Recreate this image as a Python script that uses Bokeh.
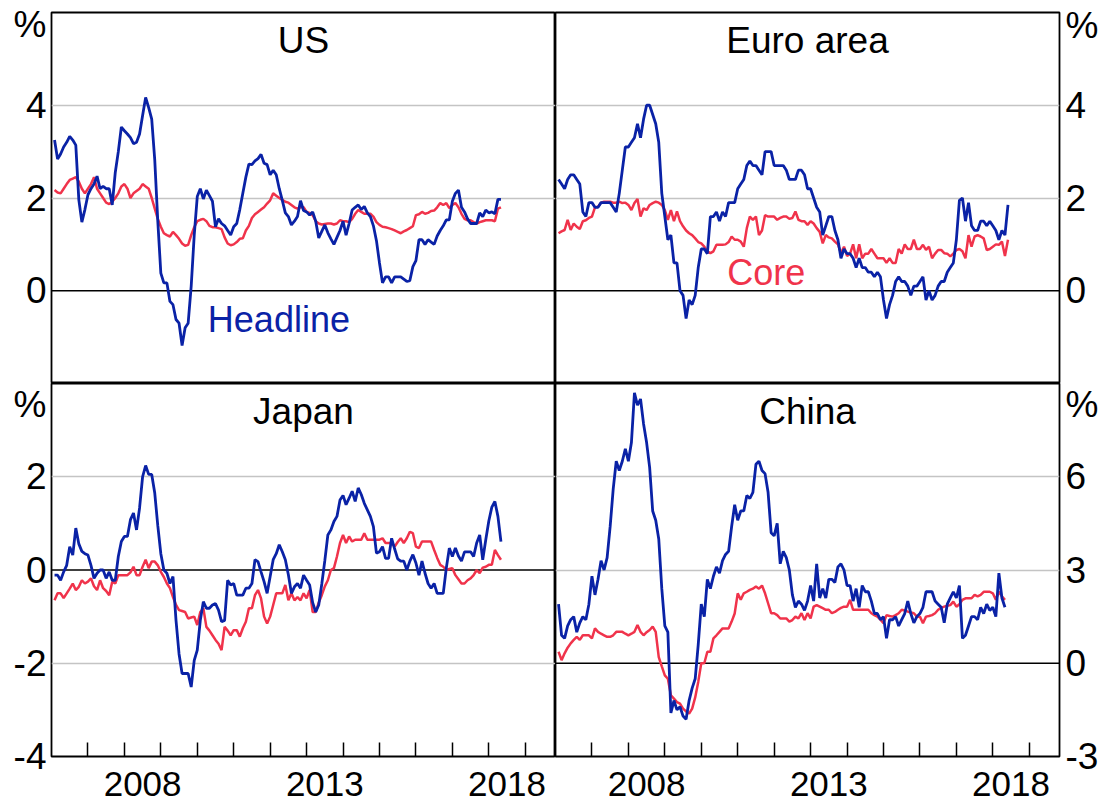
import numpy as np
from bokeh.plotting import figure
from bokeh.models import Range1d, FixedTicker, Span, Label
from bokeh.layouts import column, row
from bokeh.embed import file_html
from bokeh.resources import INLINE

# ---------------- data (monthly, year-ended % change, from Jan 2006) ----------------
us_headline = [
    3.25, 2.84, 2.95, 3.1, 3.2, 3.33, 3.25, 3.14, 1.96, 1.48, 1.75, 2.07,
    2.2, 2.3, 2.47, 2.2, 2.25, 2.2, 2.2, 1.85, 2.55, 3.0, 3.53, 3.45,
    3.38, 3.3, 3.17, 3.2, 3.38, 3.78, 4.17, 3.95, 3.7, 2.82, 1.5, 0.38,
    0.17, 0.17, -0.23, -0.3, -0.62, -0.7, -1.18, -0.8, -0.7, 0.1, 1.2, 2.03,
    2.2, 1.98, 2.17, 2.05, 1.93, 1.38, 1.55, 1.45, 1.4, 1.3, 1.2, 1.38,
    1.45, 1.75, 2.1, 2.45, 2.73, 2.72, 2.8, 2.85, 2.94, 2.75, 2.72, 2.5,
    2.6, 2.5, 2.2, 1.95, 1.68, 1.6, 1.42, 1.5, 1.6, 1.94, 1.73, 1.7,
    1.63, 1.7, 1.5, 1.14, 1.28, 1.42, 1.25, 1.12, 1.0, 1.15, 1.3, 1.5,
    1.2, 1.45, 1.74, 1.8, 1.85, 1.75, 1.82, 1.68, 1.6, 1.4, 1.08, 0.6,
    0.17, 0.3, 0.3, 0.17, 0.3, 0.3, 0.3, 0.25, 0.2, 0.22, 0.52, 0.65,
    1.1, 1.1, 1.0, 1.1, 1.05, 1.0, 1.18, 1.3, 1.4, 1.53, 1.53, 1.93,
    2.1, 2.17, 1.8, 1.7, 1.55, 1.45, 1.45, 1.45, 1.68, 1.6, 1.74, 1.68,
    1.7, 1.66, 1.97, 1.97,
]
us_core = [
    2.17, 2.12, 2.1, 2.2, 2.3, 2.39, 2.42, 2.45, 2.35, 2.2, 2.1, 2.2,
    2.3, 2.45, 2.2, 2.1, 2.0, 1.9, 1.87, 1.92, 2.0, 2.1, 2.25, 2.3,
    2.2, 2.0, 2.1, 2.15, 2.2, 2.3, 2.25, 2.2, 2.0, 1.77, 1.55, 1.38,
    1.24, 1.2, 1.17, 1.27, 1.2, 1.12, 1.02, 0.97, 0.99, 1.2, 1.37, 1.5,
    1.53, 1.55, 1.5, 1.4, 1.37, 1.37, 1.35, 1.33, 1.15, 1.02, 0.98, 1.0,
    1.05, 1.12, 1.13, 1.3, 1.4, 1.57, 1.65, 1.7, 1.75, 1.8, 1.88, 1.95,
    2.1, 2.05, 2.0, 1.96, 1.92, 1.9, 1.85, 1.8, 1.77, 1.8, 1.8, 1.7,
    1.68, 1.63, 1.5, 1.45, 1.43, 1.44, 1.45, 1.45, 1.43, 1.45, 1.52, 1.5,
    1.5, 1.48, 1.55, 1.66, 1.74, 1.7, 1.66, 1.66, 1.66, 1.6, 1.48, 1.42,
    1.38, 1.37, 1.35, 1.33, 1.3, 1.27, 1.24, 1.28, 1.31, 1.35, 1.39, 1.63,
    1.65, 1.7, 1.66, 1.68, 1.72, 1.73, 1.8, 1.89, 1.85, 1.89, 1.78, 1.85,
    1.89, 1.8, 1.66, 1.55, 1.52, 1.52, 1.48, 1.45, 1.48, 1.5, 1.52, 1.52,
    1.52, 1.5, 1.77, 1.8,
]
ea_headline = [
    2.4, 2.3, 2.2, 2.4, 2.5, 2.5, 2.4, 2.3, 1.7, 1.6, 1.9, 1.9,
    1.8, 1.8, 1.9, 1.9, 1.9, 1.9, 1.8, 1.7, 2.1, 2.6, 3.1, 3.1,
    3.2, 3.3, 3.6, 3.3, 3.7, 4.0, 4.0, 3.8, 3.6, 3.2, 2.1, 1.6,
    1.1, 1.2, 0.6, 0.6, 0.0, -0.1, -0.6, -0.2, -0.3, -0.1, 0.5, 0.9,
    0.9, 0.8, 1.6, 1.6, 1.7, 1.5, 1.7, 1.6, 1.9, 1.9, 1.9, 2.2,
    2.3, 2.4, 2.7, 2.8, 2.7, 2.7, 2.6, 2.5, 3.0, 3.0, 3.0, 2.7,
    2.7, 2.7, 2.7, 2.6, 2.4, 2.4, 2.4, 2.6, 2.6, 2.5, 2.2, 2.2,
    2.0, 1.8, 1.7, 1.2, 1.4, 1.6, 1.6, 1.3, 1.1, 0.7, 0.9, 0.8,
    0.8, 0.7, 0.5, 0.7, 0.5, 0.5, 0.4, 0.4, 0.3, 0.4, 0.3, -0.2,
    -0.6, -0.3, -0.1, 0.2, 0.3, 0.2, 0.2, 0.1, -0.1, 0.1, 0.1, 0.2,
    0.3, -0.2, 0.0, -0.2, -0.1, 0.1, 0.2, 0.2, 0.4, 0.5, 0.6, 1.1,
    1.95, 2.0, 1.5, 1.9, 1.4, 1.3, 1.3, 1.5, 1.5, 1.4, 1.5, 1.4,
    1.3, 1.1, 1.3, 1.2, 1.85,
]
ea_core = [
    1.24, 1.28, 1.31, 1.53, 1.31, 1.45, 1.38, 1.33, 1.5, 1.52, 1.57, 1.6,
    1.8, 1.81, 1.9, 1.92, 1.92, 1.92, 1.9, 1.9, 1.92, 1.89, 1.9, 1.85,
    1.74, 1.89, 1.98, 1.6, 1.78, 1.74, 1.85, 1.89, 1.92, 1.9, 1.85, 1.74,
    1.53, 1.74, 1.5, 1.71, 1.5, 1.39, 1.3, 1.24, 1.2, 1.13, 1.05, 1.02,
    0.95, 0.85, 0.81, 0.85, 0.99, 0.99, 0.99, 1.0, 1.05, 1.17, 1.1, 1.1,
    1.06, 0.95, 1.35, 1.6, 1.53, 1.6, 1.2, 1.3, 1.63, 1.6, 1.6, 1.6,
    1.53, 1.57, 1.6, 1.6, 1.55, 1.57, 1.71, 1.53, 1.5, 1.5, 1.42, 1.5,
    1.45, 1.35, 1.27, 1.02, 1.2, 1.15, 1.13, 1.06, 1.0, 0.81, 0.95, 0.75,
    0.8, 1.0, 0.7, 1.0, 0.7, 0.8, 0.8, 0.9, 0.8, 0.7, 0.7, 0.7,
    0.6, 0.7, 0.6, 0.6, 0.9, 0.8, 1.0, 0.9, 0.9, 1.1, 0.9, 0.9,
    0.99, 0.88, 0.95, 0.7, 0.8, 0.88, 0.88, 0.81, 0.8, 0.74, 0.8, 0.88,
    0.9, 0.85, 0.7, 1.2, 0.95, 1.17, 1.2, 1.17, 1.13, 0.88, 0.9, 0.95,
    1.0, 0.99, 1.06, 0.75, 1.1,
]
jp_headline = [
    -0.11, -0.11, -0.22, -0.04, 0.1, 0.5, 0.32, 0.9, 0.56, 0.4, 0.35, 0.32,
    0.1, -0.18, -0.07, 0.0, 0.0, -0.18, -0.04, -0.22, -0.22, 0.29, 0.61, 0.72,
    0.72, 1.08, 1.22, 0.86, 1.33, 2.0, 2.24, 2.05, 2.05, 1.65, 0.95, 0.35,
    0.0, -0.07, -0.29, -0.14, -1.08, -1.8, -2.22, -2.22, -2.22, -2.51, -1.94, -1.72,
    -1.08, -0.68, -0.82, -0.82, -0.75, -0.72, -0.86, -1.11, -1.08, -0.22, -0.32, -0.29,
    -0.54, -0.54, -0.54, -0.39, -0.39, -0.29, 0.22, 0.18, -0.04, -0.25, -0.5, -0.14,
    0.22, 0.35, 0.54, 0.39, 0.22, -0.1, -0.5, -0.36, -0.29, -0.39, -0.11, -0.22,
    -0.32, -0.7, -0.9, -0.75, -0.3, 0.2, 0.75, 0.86, 1.04, 1.15, 1.5, 1.6,
    1.4, 1.54, 1.69, 1.47, 1.76, 1.62, 1.43, 1.29, 1.15, 0.93, 0.36, 0.39,
    0.5, 0.25, 0.25, 0.68, 0.45, 0.24, 0.19, 0.19, 0.0, 0.19, 0.33, 0.15,
    -0.11, 0.19, -0.07, -0.29, -0.39, -0.29, -0.5, -0.5, -0.5, 0.04, 0.47, 0.29,
    0.47, 0.3, 0.19, 0.39, 0.39, 0.39, 0.29, 0.58, 0.75, 0.22, 0.65, 1.05,
    1.35, 1.47, 1.15, 0.61,
]
jp_core = [
    -0.65, -0.5, -0.5, -0.6, -0.5, -0.4, -0.29, -0.43, -0.36, -0.22, -0.29, -0.25,
    -0.18, -0.35, -0.43, -0.22, -0.39, -0.45, -0.54, -0.25, -0.29, -0.11, -0.11, -0.11,
    -0.11, -0.05, 0.07, -0.11, -0.11, 0.07, 0.22, 0.04, 0.18, 0.18, 0.1, -0.04,
    -0.15, -0.29, -0.39, -0.58, -0.75, -0.86, -0.88, -0.9, -1.04, -1.02, -1.0, -1.18,
    -0.9, -0.82, -1.22, -1.3, -1.4, -1.5, -1.58, -1.72, -1.22, -1.3, -1.4, -1.29,
    -1.29, -1.43, -1.25, -1.11, -0.82, -0.82, -0.54, -0.43, -0.61, -1.0, -1.15, -1.0,
    -0.75, -0.5, -0.5, -0.5, -0.32, -0.65, -0.5, -0.65, -0.58, -0.65, -0.5, -0.61,
    -0.43, -0.9, -0.9, -0.7, -0.54, -0.35, -0.22, 0.0, 0.04, 0.29, 0.58, 0.75,
    0.58, 0.72, 0.61, 0.65, 0.65, 0.65, 0.79, 0.65, 0.65, 0.65, 0.65, 0.65,
    0.68, 0.58, 0.58, 0.58, 0.5, 0.6, 0.68, 0.58, 0.68, 0.82, 0.79, 0.5,
    0.47, 0.61, 0.61, 0.61, 0.61, 0.43, 0.26, 0.11, 0.07, 0.0, 0.02, 0.04,
    -0.11, -0.2, -0.29, -0.29, -0.22, -0.18, -0.11, 0.0, -0.07, 0.05, 0.07, 0.11,
    0.11, 0.43, 0.32, 0.22,
]
cn_headline = [
    1.9, 0.9, 0.8, 1.2, 1.4, 1.5, 1.0, 1.3, 1.5, 1.4, 1.9, 2.8,
    2.2, 2.7, 3.3, 3.0, 3.4, 4.4, 5.6, 6.5, 6.2, 6.5, 6.9, 6.5,
    7.1, 8.7, 8.3, 8.5, 7.7, 7.1, 6.3, 4.9, 4.6, 4.0, 2.4, 1.2,
    1.0, -1.6, -1.2, -1.5, -1.4, -1.7, -1.8, -1.2, -0.8, -0.5, 0.6, 1.9,
    1.5, 2.7, 2.4, 2.8, 3.1, 2.9, 3.3, 3.5, 3.6, 4.4, 5.1, 4.6,
    4.9, 4.9, 5.4, 5.3, 5.5, 6.4, 6.5, 6.2, 6.1, 5.5, 4.2, 4.1,
    4.5, 3.2, 3.6, 3.4, 3.0, 2.2, 1.8, 2.0, 1.9, 1.7, 2.0, 2.5,
    2.0, 3.2, 2.1, 2.4, 2.1, 2.7, 2.7, 2.6, 3.1, 3.2, 3.0, 2.5,
    2.5, 2.0, 2.4, 1.8, 2.5, 2.3, 2.3, 2.0, 1.6, 1.6, 1.4, 1.5,
    0.8, 1.4, 1.4, 1.5, 1.2, 1.4, 1.6, 2.0, 1.6, 1.3, 1.5, 1.6,
    1.8, 2.3, 2.3, 2.3, 2.0, 1.9, 1.8, 1.3, 1.9, 2.1, 2.3, 2.1,
    2.5, 0.8, 0.9, 1.2, 1.5, 1.5, 1.4, 1.8, 1.6, 1.9, 1.7, 1.8,
    1.5, 2.9, 2.1, 1.8,
]
cn_core = [
    0.37, 0.1, 0.32, 0.5, 0.64, 0.75, 0.85, 0.75, 0.9, 0.9, 0.9, 0.8,
    1.12, 1.01, 0.95, 0.9, 0.85, 0.85, 0.9, 1.01, 1.01, 1.01, 0.95, 0.9,
    0.95, 1.01, 1.23, 1.01, 0.9, 1.0, 1.07, 1.18, 1.01, 0.2, -0.1, -0.39,
    -0.5, -1.03, -1.14, -1.25, -1.3, -1.46, -1.55, -1.62, -1.46, -1.1, -0.6, 0.0,
    0.0, 0.37, 0.37, 0.8, 0.9, 1.01, 1.12, 1.12, 1.12, 1.34, 1.6, 2.25,
    2.04, 2.25, 2.3, 2.36, 2.4, 2.47, 2.4, 2.5, 2.25, 1.93, 1.61, 1.61,
    1.55, 1.44, 1.44, 1.44, 1.34, 1.39, 1.5, 1.44, 1.61, 1.39, 1.61, 1.44,
    1.82, 1.87, 1.82, 1.77, 1.72, 1.72, 1.61, 1.65, 1.72, 1.78, 1.82, 1.82,
    2.04, 1.72, 1.72, 1.72, 1.72, 1.72, 1.72, 1.61, 1.55, 1.5, 1.4, 1.29,
    1.55, 1.52, 1.5, 1.55, 1.61, 1.72, 1.7, 1.66, 1.63, 1.61, 1.5, 1.5,
    1.29, 1.5, 1.52, 1.55, 1.61, 1.72, 1.78, 1.82, 1.85, 1.87, 1.98, 1.82,
    1.9, 2.04, 2.09, 2.09, 2.09, 2.2, 2.15, 2.2, 2.3, 2.3, 2.3, 2.25,
    2.04, 2.3, 2.15, 2.04,
]

panel_titles = ["US", "Euro area", "Japan", "China"]
series_labels = ["Headline", "Core"]
year_ticks = list(range(2007, 2020))
year_label_pos = [2008.5, 2013.5, 2018.5]
year_labels = ["2008", "2013", "2018"]

START_YEAR = 2006
X_END = 2019.83

FONT = "Liberation Sans"
BLUE = "#0a22a6"
RED = "#f0334b"
GRID = "#c4c4c4"


def month_x(series):
    # monthly observations plotted at month end
    return [START_YEAR + (i + 1) / 12 for i in range(len(series))]


def panel(title, title_y, head, core, y_rng, y_ticks, y_grid, pct_y, side, bottom,
          width, height, b_left, b_right, b_top, b_bottom):
    p = figure(width=width, height=height, output_backend="svg", toolbar_location=None,
               tools="", x_range=Range1d(START_YEAR, X_END), y_range=Range1d(*y_rng),
               y_axis_location=side, x_axis_location="below" if bottom else None,
               min_border=0, min_border_left=b_left, min_border_right=b_right,
               min_border_top=b_top, min_border_bottom=b_bottom,
               background_fill_color="white", border_fill_color="white")
    p.outline_line_color = "black"
    p.outline_line_width = 1.8
    p.xgrid.grid_line_color = None
    p.ygrid.ticker = FixedTicker(ticks=y_grid)
    p.ygrid.grid_line_color = GRID
    p.ygrid.grid_line_width = 1.4
    p.add_layout(Span(location=0, dimension="width", line_color="black",
                      line_width=1.5, level="underlay"))

    ya = p.yaxis[0]
    ya.ticker = FixedTicker(ticks=y_ticks + [pct_y])
    ov = {t: str(int(t)) for t in y_ticks}
    ov[pct_y] = "%"
    ya.major_label_overrides = ov
    ya.major_tick_in = 0
    ya.major_tick_out = 0
    ya.minor_tick_in = 0
    ya.minor_tick_out = 0
    ya.axis_line_color = None
    ya.major_label_standoff = 5 if side == "left" else 6
    ya.major_label_text_font = FONT
    ya.major_label_text_font_size = "37px"
    ya.major_label_text_color = "black"

    if bottom:
        xa = p.xaxis[0]
        xa.ticker = FixedTicker(ticks=year_label_pos, minor_ticks=year_ticks)
        xa.major_label_overrides = dict(zip(year_label_pos, year_labels))
        xa.major_tick_in = 0
        xa.major_tick_out = 0
        xa.minor_tick_in = 14
        xa.minor_tick_out = 0
        xa.minor_tick_line_color = "black"
        xa.minor_tick_line_width = 1.5
        xa.axis_line_color = None
        xa.major_label_standoff = 15
        xa.major_label_text_font = FONT
        xa.major_label_text_font_size = "35px"
        xa.major_label_text_color = "black"

    p.line(month_x(core), core, line_color=RED, line_width=2.5)
    p.line(month_x(head), head, line_color=BLUE, line_width=2.8)

    p.add_layout(Label(x=(START_YEAR + X_END) / 2, y=title_y, text=title,
                       text_align="center", text_baseline="alphabetic",
                       text_font=FONT, text_font_size="37px", text_color="black"))
    return p


p_us = panel(panel_titles[0], 5.40, us_headline, us_core, (-2, 6), [0, 2, 4], [2, 4], 5.74,
             "left", False, 555, 383, 51, 0, 12, 0)
p_us.add_layout(Label(x=2010.29, y=-0.63, text=series_labels[0], text_align="left",
                      text_baseline="alphabetic", text_font=FONT, text_font_size="36px",
                      text_color=BLUE))

p_ea = panel(panel_titles[1], 5.40, ea_headline, ea_core, (-2, 6), [0, 2, 4], [2, 4], 5.71,
             "right", False, 549, 383, 0, 45, 12, 0)
p_ea.add_layout(Label(x=2010.71, y=0.40, text=series_labels[1], text_align="left",
                      text_baseline="alphabetic", text_font=FONT, text_font_size="36px",
                      text_color=RED))

p_jp = panel(panel_titles[2], 3.40, jp_headline, jp_core, (-4, 4), [-4, -2, 0, 2], [-2, 2], 3.68,
             "left", True, 555, 429, 51, 0, 0, 56)

p_cn = panel(panel_titles[3], 8.10, cn_headline, cn_core, (-3, 9), [-3, 0, 3, 6], [3, 6], 8.50,
             "right", True, 549, 429, 0, 45, 0, 56)

layout = column(row(p_us, p_ea, spacing=0), row(p_jp, p_cn, spacing=0), spacing=0)

open("out.html", "w").write(file_html(layout, INLINE))
